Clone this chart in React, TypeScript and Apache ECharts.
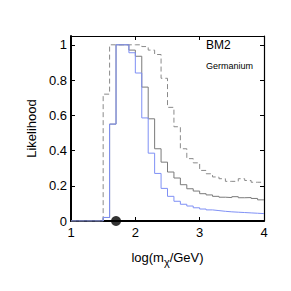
import React, { useEffect, useRef } from "react";
import * as echarts from "echarts";

const binEdges = [1.5, 1.6, 1.7, 1.8, 1.9, 2.0, 2.1, 2.2, 2.3, 2.4, 2.5, 2.6, 2.7, 2.8, 2.9, 3.0, 3.1, 3.2, 3.3, 3.4, 3.5, 3.6, 3.7, 3.8, 3.9];
const xEnd = 4.0;
const xStart = 1.0;

const blueValues = [0.02, 0.55, 1.0, 1.0, 0.955, 0.84, 0.585, 0.385, 0.27, 0.185, 0.14, 0.112, 0.095, 0.085, 0.075, 0.068, 0.063, 0.059, 0.055, 0.052, 0.05, 0.048, 0.046, 0.044, 0.042];
const solidValues = [0.02, 0.55, 1.0, 1.0, 0.97, 0.935, 0.76, 0.58, 0.41, 0.334, 0.278, 0.244, 0.206, 0.183, 0.17, 0.155, 0.148, 0.14, 0.135, 0.133, 0.138, 0.132, 0.133, 0.128, 0.12];
const dashedValues = [0.72, 1.0, 1.0, 1.0, 1.0, 1.0, 0.99, 0.97, 0.945, 0.81, 0.645, 0.535, 0.41, 0.354, 0.33, 0.287, 0.268, 0.25, 0.24, 0.225, 0.225, 0.24, 0.23, 0.22, 0.22];

const markerPoint = [1.7, 0];

const xTicks = [1, 2, 3, 4];
const yTicks = [0, 0.2, 0.4, 0.6, 0.8, 1];

const FONT = "Liberation Sans";

function stepData(values: number[]) {
  const pts: number[][] = [[xStart, 0]];
  binEdges.forEach((e, i) => pts.push([e, values[i]]));
  pts.push([xEnd, values[values.length - 1]]);
  return pts;
}

export default function App() {
  const ref = useRef<HTMLDivElement>(null);
  useEffect(() => {
    if (!ref.current) return;
    const chart = echarts.init(ref.current, null, { renderer: "svg" });
    const fmtY = (v: number) => {
      const hit = yTicks.find((t) => Math.abs(t - v) < 1e-6);
      return hit === undefined ? "" : String(hit);
    };
    const fmtX = (v: number) => {
      const hit = xTicks.find((t) => Math.abs(t - v) < 1e-6);
      return hit === undefined ? "" : String(hit);
    };
    chart.setOption({
      animation: false,
      grid: { left: 63, right: 27, top: 28, bottom: 70, containLabel: false },
      xAxis: [
        {
          type: "value",
          min: 1,
          max: 4,
          interval: 1,
          position: "bottom",
          name: "log(m{sub|χ}/GeV)",
          nameLocation: "middle",
          nameGap: 26,
          nameTextStyle: {
            color: "#000",
            fontFamily: FONT,
            fontSize: 13,
            rich: { sub: { fontSize: 11, fontFamily: FONT, color: "#000", padding: [9, 0, 0, 0] } },
          },
          axisLine: { show: true, onZero: false, lineStyle: { color: "#000", width: 2 } },
          axisTick: { show: true, inside: true, length: 4, lineStyle: { color: "#000", width: 1 } },
          axisLabel: { color: "#000", fontFamily: FONT, fontSize: 13, margin: 5, formatter: fmtX },
          splitLine: { show: false },
        },
        {
          type: "value",
          min: 1,
          max: 4,
          interval: 1,
          position: "top",
          axisLine: { show: true, onZero: false, lineStyle: { color: "#000", width: 1.2 } },
          axisTick: { show: true, inside: true, length: 4, lineStyle: { color: "#000", width: 1 } },
          axisLabel: { show: false },
          splitLine: { show: false },
        },
      ],
      yAxis: [
        {
          type: "value",
          min: 0,
          max: 1.05,
          interval: 0.2,
          position: "left",
          name: "Likelihood",
          nameLocation: "middle",
          nameGap: 30,
          nameRotate: 90,
          nameTextStyle: { color: "#000", fontFamily: FONT, fontSize: 13 },
          axisLine: { show: true, onZero: false, lineStyle: { color: "#000", width: 2 } },
          axisTick: { show: true, inside: true, length: 4, lineStyle: { color: "#000", width: 1 } },
          axisLabel: { color: "#000", fontFamily: FONT, fontSize: 13, margin: 4, formatter: fmtY, showMaxLabel: false },
          splitLine: { show: false },
        },
        {
          type: "value",
          min: 0,
          max: 1.05,
          interval: 0.2,
          position: "right",
          axisLine: { show: true, onZero: false, lineStyle: { color: "#000", width: 1.2 } },
          axisTick: { show: true, inside: true, length: 4, lineStyle: { color: "#000", width: 1 } },
          axisLabel: { show: false },
          splitLine: { show: false },
        },
      ],
      series: [
        {
          type: "line",
          step: "end",
          data: stepData(dashedValues),
          symbol: "none",
          lineStyle: { color: "#8a8a8a", width: 1, type: [5, 3] },
          z: 2,
        },
        {
          type: "line",
          step: "end",
          data: stepData(solidValues),
          symbol: "none",
          lineStyle: { color: "#7a7a7a", width: 1 },
          z: 3,
        },
        {
          type: "line",
          step: "end",
          data: stepData(blueValues),
          symbol: "none",
          lineStyle: { color: "#7f90f5", width: 1 },
          z: 4,
        },
        {
          type: "scatter",
          data: [markerPoint],
          symbol: "circle",
          symbolSize: 10,
          clip: false,
          itemStyle: { color: "#000" },
          z: 10,
        },
      ],
      graphic: [
        { type: "text", left: 198, top: 31, style: { text: "BM2", fontFamily: FONT, fontSize: 12, fill: "#000" } },
        { type: "text", left: 198, top: 53, style: { text: "Germanium", fontFamily: FONT, fontSize: 9, fill: "#000" } },
      ],
    });
    return () => chart.dispose();
  }, []);
  return <div ref={ref} style={{ width: 283, height: 283 }} />;
}
